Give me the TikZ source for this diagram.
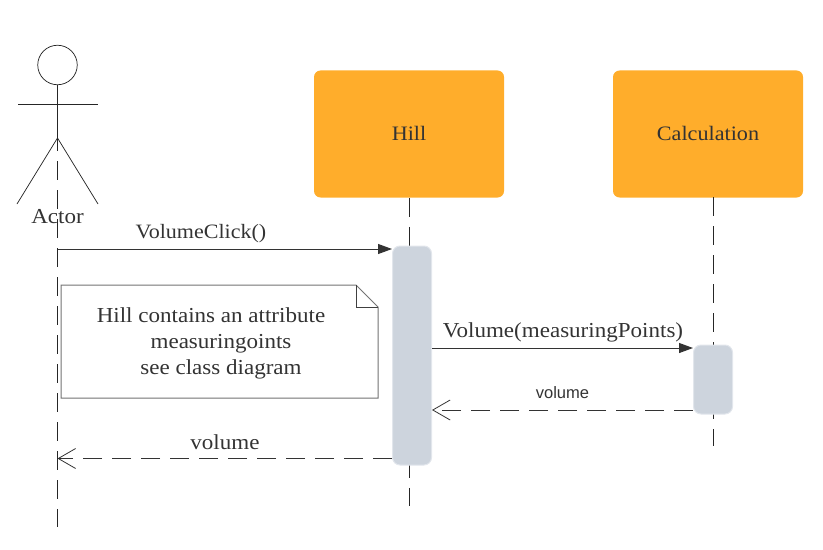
\documentclass[tikz,border=0pt]{standalone}
\usepackage{fontspec}
\setmainfont[FakeStretch=1.08]{Liberation Serif}
\setsansfont{Liberation Sans}
\usetikzlibrary{arrows.meta}
\definecolor{orangebox}{HTML}{FFAD2B}
\definecolor{actbox}{HTML}{CDD4DD}
\definecolor{actedge}{HTML}{E2E6EC}
\definecolor{inktext}{HTML}{333333}
\tikzset{
  px/.style={x=0.75pt,y=-0.75pt},
  lifebox/.style={draw=none,fill=orangebox,rounded corners=6.5pt*0.75,minimum width=190*0.75pt,minimum height=127*0.75pt,inner sep=0pt,text=inktext,font=\fontsize{15.4pt}{18pt}\selectfont},
  actbar/.style={draw=actedge,line width=0.75pt,fill=actbox,rounded corners=7.5pt*0.75,minimum width=39*0.75pt,inner sep=0pt},
  lifeline/.style={draw=black!85,line width=0.55pt,dash pattern=on 14.25pt off 7.5pt},
  stick/.style={draw=black!85,line width=0.55pt},
  msg/.style={draw=inktext,line width=0.75pt,-{Triangle[length=10.5pt,width=7.5pt,fill=inktext]}},
  retmsg/.style={draw=inktext,line width=0.6pt,dash pattern=on 14.25pt off 7.5pt,-{Straight Barb[length=13pt,width=15pt,line width=0.6pt]}},
  lbl/.style={inner sep=0pt,text=inktext,font=\fontsize{16pt}{19.5pt}\selectfont},
  notebox/.style={draw=black!55,line width=0.75pt,fill=white},
}
\begin{document}
\begin{tikzpicture}[px]
\useasboundingbox (0,0) rectangle (823,549);
% Lifeline heads
\node[lifebox] (hill) at (409,134) {\raisebox{1pt}{Hill}};
\node[lifebox] (calc) at (708,134) {\raisebox{1pt}{Calculation}};
% Actor
\node[draw=black!85,line width=0.55pt,circle,minimum size=39.5*0.75pt,inner sep=0pt] (head) at (57.5,65) {};
\coordinate (neck) at (57.5,138);
\coordinate (armL) at (18,104);
\coordinate (armR) at (98,104);
\coordinate (footL) at (17,204);
\coordinate (footR) at (98,204);
\draw[stick] (head.south) -- (neck);
\draw[stick] (armL) -- (armR);
\draw[stick] (footL) -- (neck) -- (footR);
\node[lbl] (actor) at (57.5,216.5) {Actor};
% Lifelines
\coordinate (actorEnd) at (57.5,527);
\coordinate (actorTop) at (57.5,132);
\coordinate (hillEnd) at (409,506);
\coordinate (calcEnd) at (713,446);
\coordinate (calcTop) at (713,197);
\draw[lifeline] (actorTop) -- (actorEnd);
\draw[lifeline] (hill.south) -- (hillEnd);
\draw[lifeline] (calcTop) -- (calcEnd);
% Activations
\node[actbar,minimum height=219*0.75pt] (hillact) at (412,355.5) {};
\node[actbar,minimum height=69*0.75pt] (calcact) at (713,379.5) {};
% Note
\coordinate (n1) at (61,285);
\coordinate (n2) at (356,285);
\coordinate (n3) at (378,307);
\coordinate (n4) at (378,398);
\coordinate (n5) at (61,398);
\coordinate (n6) at (356,307);
\draw[notebox] (n1) -- (n2) -- (n3) -- (n4) -- (n5) -- cycle;
\draw[draw=black!75,line width=0.6pt] (n2) -- (n6) -- (n3);
\node[lbl,align=center] (notetext) at (211,343) {Hill contains an attribute\\\hspace*{15pt}measuringoints\\\hspace*{15pt}see class diagram};
% Messages
\coordinate (m1) at (57.5,249);
\coordinate (m2) at (432,348);
\coordinate (m3) at (693,410);
\coordinate (m4) at (392,458.5);
\coordinate (m5) at (57.5,458.5);
\draw[msg] (m1) -- (hillact.west |- m1);
\draw[msg] (m2) -- (calcact.west |- m2);
\draw[retmsg] (m3) -- (hillact.east |- m3);
\draw[retmsg] (m4) -- (m5);
\node[lbl,font=\fontsize{15.3pt}{19pt}\selectfont] (l1) at (201,234) {VolumeClick()};
\node[lbl] (l2) at (563,332) {Volume(measuringPoints)};
\node[inner sep=0pt,text=inktext,font=\sffamily\fontsize{12.4pt}{14pt}\selectfont] (l3) at (562.5,393) {volume};
\node[lbl] (l4) at (225,442) {volume};
\end{tikzpicture}
\end{document}
